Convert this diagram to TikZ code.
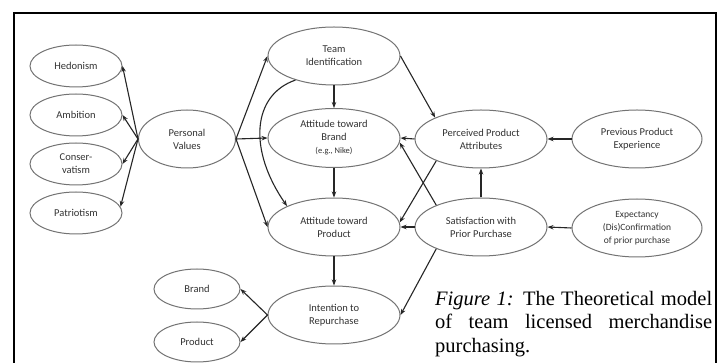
\documentclass[tikz,border=0pt]{standalone}
\usepackage{fontspec}
\setmainfont{Liberation Serif}
\newfontfamily\carl{Carlito}
\usetikzlibrary{shapes.geometric,arrows.meta}
\begin{document}
\begin{tikzpicture}[x=1pt,y=-1pt,
  ell/.style={ellipse, draw=black!55, line width=1pt, inner sep=0pt, align=center,
    font=\carl\fontsize{10.5}{13}\selectfont, text=black!80},
  sm/.style={ell, minimum width=92pt, minimum height=42pt},
  bg/.style={ell, minimum width=132pt, minimum height=58pt},
  arr/.style={-{Stealth[length=6pt,width=4.5pt]}, line width=1.1pt, draw=black!85}]
\useasboundingbox (0,0) rectangle (721,363);
\fill[white] (0,0) rectangle (721,363);
% frame
\draw[line width=1.2pt] (14,364) -- (14,13) -- (716,13) -- (716,364);

% left column
\node[sm] (hed) at (76,66) {Hedonism};
\node[sm] (amb) at (76,115) {Ambition};
\node[sm] (con) at (76,164) {Conser-\\vatism};
\node[sm] (pat) at (76,213) {Patriotism};
\node[ell, minimum width=97pt, minimum height=58pt] (pv) at (187,139) {Personal\\Values};

% centre column
\node[bg] (tid) at (334,56) {Team\\Identification};
\node[bg, minimum height=59pt] (abr) at (334,138) {Attitude toward\\Brand\\{\fontsize{8.5}{13}\selectfont(e.g., Nike)}};
\node[bg] (apr) at (334,227) {Attitude toward\\Product};
\node[bg] (int) at (334,315) {Intention to\\Repurchase};
\node[ell, minimum width=86pt, minimum height=40pt] (brd) at (197,289) {Brand};
\node[ell, minimum width=86pt, minimum height=40pt] (prd) at (197,342) {Product};

% right columns
\node[bg] (ppa) at (481,139) {Perceived Product\\Attributes};
\node[bg] (sat) at (481,227) {Satisfaction with\\Prior Purchase};
\node[bg, minimum width=130pt] (ppe) at (637,139) {Previous Product\\Experience};
\node[bg, minimum width=130pt, font=\carl\fontsize{9.5}{13}\selectfont] (exp) at (637,228) {Expectancy\\(Dis)Confirmation\\of prior purchase};

% caption
\node[anchor=north west, text width=277pt, align=justify, inner sep=0pt,
  font=\fontsize{20.5}{23.5}\selectfont] (cap) at (435,291)
  {\textit{Figure 1:} The Theoretical model\linebreak of team licensed merchandise\linebreak purchasing.};

% arrows from personal values
\draw[arr] (pv.west) -- (hed.east);
\draw[arr] (pv.west) -- (amb.east);
\draw[arr] (pv.west) -- (con.east);
\draw[arr] (pv.west) -- (pat.8);
\draw[arr] (pv.east) -- (tid.west);
\draw[arr] (pv.east) -- (abr.west);
\draw[arr] (pv.east) -- (apr.west);

% team identification
\draw[arr] (tid.212) .. controls (252,95) and (248,150) .. (apr.156);
\draw[arr] (tid.south) -- (abr.north);
\draw[arr] (abr.south) -- (apr.north);
\draw[arr] (apr.south) -- (int.north);
\draw[arr] (tid.east) -- (ppa.155);

% right side
\draw[arr] (ppa.west) -- (abr.east);
\draw[arr] (ppa.206) -- (apr.4);
\draw[arr] (sat.154) -- (abr.356);
\draw[arr] (sat.north) -- (ppa.south);
\draw[arr] (sat.west) -- (apr.east);
\draw[arr] (sat.206) -- (int.east);
\draw[arr] (ppe.west) -- (ppa.east);
\draw[arr] (exp.west) -- (sat.east);

% intention to purchase
\draw[arr] (int.west) -- (brd.east);
\draw[arr] (int.west) -- (prd.east);
\end{tikzpicture}
\end{document}
